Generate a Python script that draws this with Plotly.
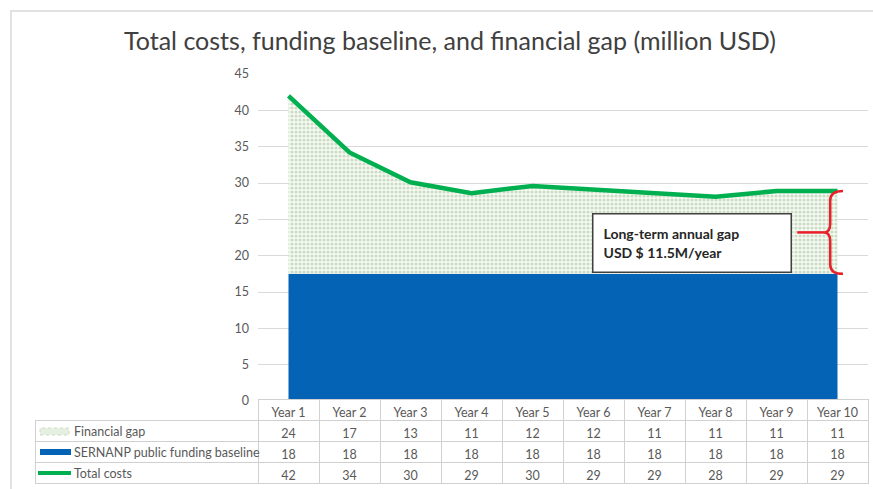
import plotly.graph_objects as go

years = ["Year 1", "Year 2", "Year 3", "Year 4", "Year 5", "Year 6", "Year 7", "Year 8", "Year 9", "Year 10"]
# values (million USD)
total_costs = [42.0, 34.2, 30.1, 28.6, 29.6, 29.1, 28.7, 28.1, 28.9, 28.9]
baseline = [17.5] * 10
# table values as printed
tbl_gap = [24, 17, 13, 11, 12, 12, 11, 11, 11, 11]
tbl_base = [18, 18, 18, 18, 18, 18, 18, 18, 18, 18]
tbl_total = [42, 34, 30, 29, 30, 29, 29, 28, 29, 29]
row_labels = ["Financial gap", "SERNANP public funding baseline", "Total costs"]

FONT = "Lato"
GREY = "#595959"
BLUE = "#0563B5"
GREEN = "#00B050"
idx = list(range(len(years)))

W, H = 873, 497
K = 489 / H  # vertical page->picture factor observed


def pg(yt):  # picture y -> page y
    return yt / K


ML, MR = 35, 5
MT = pg(60)
MB = H - pg(486)
PW, PH = W - ML - MR, H - MT - MB


def px(xt):
    return (xt - ML) / PW


def py(yt):
    return (H - MB - pg(yt)) / PH


fig = go.Figure()
fig.add_trace(go.Scatter(x=idx, y=baseline, mode="lines", line=dict(width=0, color=BLUE),
                         fill="tozeroy", fillcolor=BLUE, showlegend=False, hoverinfo="skip"))
fig.add_trace(go.Scatter(x=idx, y=total_costs, mode="lines", line=dict(width=0, color="#9BC88A"),
                         fill="tonexty",
                         fillpattern=dict(shape=".", fgcolor="#9DBF92", bgcolor="#F7FAF5", size=4, solidity=0.5),
                         showlegend=False, hoverinfo="skip"))
fig.add_trace(go.Scatter(x=idx, y=total_costs, mode="lines", line=dict(width=4.5, color=GREEN),
                         showlegend=False))

RH = 21
cols = [["", "", ""]] + [[str(g), str(b), str(t)] for g, b, t in zip(tbl_gap, tbl_base, tbl_total)]
fig.add_trace(go.Table(
    domain=dict(x=[0, 1], y=[0, py(398.5)]),
    columnwidth=[223] + [61] * 10,
    header=dict(values=[""] + years, height=RH, align="center",
                fill_color=["rgba(0,0,0,0)"] + ["white"] * 10,
                line=dict(color=["rgba(0,0,0,0)"] + ["#D0D0D0"] * 10, width=1),
                font=dict(family=FONT, size=12.5, color=GREY)),
    cells=dict(values=cols, height=RH, align="center",
               fill_color="white", line=dict(color="#D0D0D0", width=1),
               font=dict(family=FONT, size=12.5, color=GREY)),
))

# row labels and legend keys of the data table
row_y = [430, 451, 472]
for lab, yt in zip(row_labels, row_y):
    fig.add_annotation(x=px(72), y=py(yt), xref="paper", yref="paper", text=lab, showarrow=False,
                       xanchor="left", yanchor="middle", font=dict(family=FONT, size=12.5, color=GREY))
fig.add_shape(type="rect", xref="paper", yref="paper", x0=px(40), x1=px(69), y0=py(434), y1=py(427),
              fillcolor="#E6EFE1", line=dict(color="#C9DEBD", width=1, dash="dot"))
fig.add_shape(type="rect", xref="paper", yref="paper", x0=px(40), x1=px(71), y0=py(454), y1=py(448),
              fillcolor=BLUE, line=dict(width=0))
fig.add_shape(type="line", xref="paper", yref="paper", x0=px(38), x1=px(71), y0=py(472), y1=py(472),
              line=dict(color=GREEN, width=4))

# brace marking the long-term gap at Year 10
xe = idx[-1]
top = total_costs[-1]
bot = baseline[-1]
mid = (top + bot) / 2
xv = xe - 0.12
xt = xe + 0.09
path = (f"M {xt},{top} Q {xv},{top} {xv},{top-1.3} L {xv},{mid+1.2} "
        f"Q {xv},{mid} {xv-0.1},{mid} Q {xv},{mid} {xv},{mid-1.2} "
        f"L {xv},{bot+1.3} Q {xv},{bot} {xt},{bot}")
fig.add_shape(type="path", path=path, xref="x", yref="y", line=dict(color="#E8202A", width=2.5))
fig.add_shape(type="line", x0=xe - 0.66, x1=xv - 0.1, y0=mid, y1=mid, xref="x", yref="y",
              line=dict(color="#E8202A", width=2.5))

fig.add_annotation(x=6.62, y=21.8, xref="x", yref="y", showarrow=False,
                   text="<b>Long-term annual gap<br>USD $ 11.5M/year</b>", align="left",
                   width=177, height=37, borderpad=10, bgcolor="white", bordercolor="#404040", borderwidth=1.5,
                   font=dict(family=FONT, size=14, color="#262626"))

# outer frame
fig.add_shape(type="path", xref="paper", yref="paper",
              path=f"M {px(11)},-0.02 L {px(11)},{py(10)} L 1.02,{py(10)}",
              line=dict(color="#D9D9D9", width=1.5))

fig.update_layout(
    width=W, height=H,
    margin=dict(l=ML, r=MR, t=MT, b=MB),
    paper_bgcolor="white", plot_bgcolor="white",
    title=dict(text="Total costs, funding baseline, and financial gap (million USD)",
               x=450 / W, xanchor="center", y=1 - pg(41) / H, yanchor="middle",
               font=dict(family=FONT, size=25, color="#404040")),
    xaxis=dict(domain=[(258 - ML) / PW, 1], range=[-0.5, 9.5], showticklabels=False,
               showgrid=False, zeroline=False, showline=False),
    yaxis=dict(domain=[py(400), py(73)], range=[0, 45], dtick=5, showgrid=True,
               gridcolor="#D9D9D9", gridwidth=1, zeroline=False, showline=False,
               tickfont=dict(family=FONT, size=12.5, color=GREY), ticks="", ticklabelstandoff=8),
    showlegend=False,
)

fig.write_html("out.html", config={"displayModeBar": False},
               post_script="document.body.style.margin='0px';")
